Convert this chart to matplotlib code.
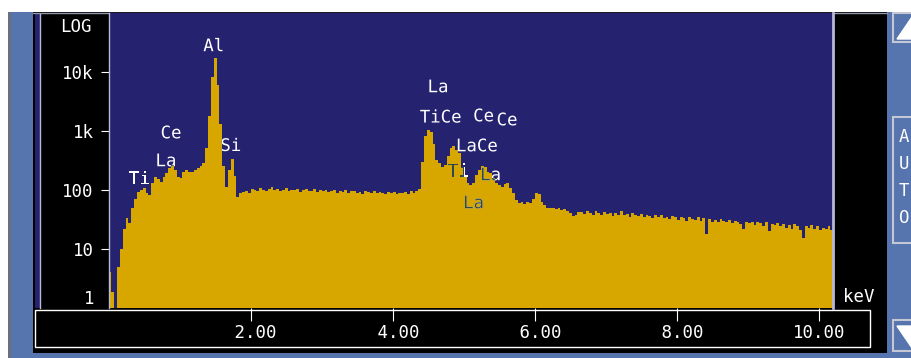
import numpy as np
import matplotlib.pyplot as plt
from matplotlib.patches import Rectangle, Polygon, PathPatch
from matplotlib.ticker import NullLocator
from matplotlib.textpath import TextPath
from matplotlib.font_manager import FontProperties
from matplotlib.transforms import Affine2D

W, H = 912, 358
NAVY = '#25236f'
GOLD = '#d7a700'
PANEL = '#5674ad'
EDGE = '#b8b8d8'
INK = '#2f4a4f'
MONO = 'DejaVu Sans Mono'
FS = 12.5

# spectrum counts, one value per 0.04 keV channel starting at 0 keV
kev_per_channel = 0.04
low_energy = [4, 1.9, 1.0, 5, 10, 22, 33, 27, 49, 70,
              91, 99, 107, 88, 81, 130, 165, 150, 135, 165,
              190, 234, 262, 215, 165, 158, 200, 215, 200, 200,
              215, 234, 250, 285, 500, 1800, 8000, 17000, 6000, 1300,
              250, 110, 220, 330, 170, 75, 88]
background = [92, 96, 90, 102, 98, 95, 108, 100, 97, 104,
              110, 99, 103, 96, 100, 107, 94, 101, 98, 105,
              93, 99, 102, 95, 97, 104, 92, 98, 94, 100,
              91, 96, 99, 90, 95, 93, 98, 88, 94, 97,
              90, 92, 86, 95, 91, 89, 94, 87, 92, 90,
              85, 93, 88, 91, 84, 90, 87, 92, 86, 95,
              89, 96, 105]
l_lines = [300, 800, 1030, 950, 600, 320, 285, 243, 260, 380,
           500, 550, 480, 420, 243, 165, 130, 120, 130, 180,
           215, 250, 240, 200, 190, 158, 130, 120, 110, 125,
           130, 107, 88, 67, 60, 62, 58, 63, 60, 70,
           88, 85, 62, 55, 50, 49, 50, 48, 49, 46,
           48, 44, 40, 36, 38, 42]
high_energy = [42, 39, 44, 40, 38, 43, 41, 37, 42, 39,
               40, 36, 41, 38, 43, 37, 39, 35, 40, 38,
               36, 39, 34, 38, 36, 33, 37, 35, 38, 33,
               35, 32, 36, 34, 31, 35, 33, 30, 34, 32,
               31, 34, 30, 33, 18, 32, 29, 31, 28, 32,
               30, 28, 31, 27, 30, 29, 26, 22, 29, 27,
               28, 25, 29, 27, 24, 28, 20, 26, 25, 27,
               24, 26, 23, 25, 22, 26, 24, 21, 15, 24,
               23, 25, 22, 24, 21, 23, 22, 24, 21]
counts = np.array(low_energy + background + l_lines + high_energy, dtype=float)
edges = np.arange(len(counts) + 1) * kev_per_channel

x_ticks = [2, 4, 6, 8, 10]
x_tick_labels = [' 2.00', ' 4.00', ' 6.00', ' 8.00', '10.00']
y_ticks = [10, 100, 1000, 10000]
y_tick_labels = ['10', '100', '1k', '10k']

# element markers (label, keV, counts where the label sits)
peak_names = ['Ti', 'La', 'Ce', 'Al', 'Si', 'La', 'TiCe', 'Ce', 'Ce', 'LaCe', 'Ti', 'La', 'La']
peak_kev = [0.43, 0.81, 0.88, 1.47, 1.72, 4.64, 4.67, 5.28, 5.61, 5.19, 4.92, 5.38, 5.14]
peak_height = [162, 319, 951, 28700, 584, 5700, 1770, 1845, 1578, 573, 216, 185, 62]

fig = plt.figure(figsize=(W / 100, H / 100), dpi=100, facecolor=PANEL)


def px_rect(x0, y0, x1, y1):
    return [x0 / W, 1 - y1 / H, (x1 - x0) / W, (y1 - y0) / H]


# screen frame, drawn in pixel units
bg = fig.add_axes([0, 0, 1, 1])
bg.set_xlim(0, W)
bg.set_ylim(H, 0)
bg.axis('off')


def box(x0, y0, x1, y1, **kw):
    bg.add_patch(Rectangle((x0, y0), x1 - x0, y1 - y0, **kw))


box(0, 0, W, 12, color='white', lw=0)
box(0, 12, 8, H, color='white', lw=0)
box(8, 12, 11, H, color='#6a7080', lw=0)
box(33, 12, 887, 353, color='black', lw=0)
box(35, 14, 40, 308, color=NAVY, lw=0)
bg.plot([33, 887], [12.5, 12.5], color='#9098a8', lw=1)
bg.plot([40, 40], [14, 308], color=EDGE, lw=1)
box(35.5, 309.5, 870, 347, fill=False, ec='white', lw=1)
bg.text(92, 27, 'LOG', color='white', ha='right', va='center', family=MONO, fontsize=FS)
bg.text(843, 297, 'keV', color='white', ha='left', va='center', family=MONO, fontsize=FS)

# scroll buttons on the right edge
for y0, y1 in [(13, 42), (117, 243), (320, 351)]:
    box(893, y0, 920, y1, fc=PANEL, ec='#c4c8d4', lw=1.5)
bg.add_patch(Polygon([(897, 39), (912, 17), (927, 39)], color='white'))
bg.add_patch(Polygon([(897, 326), (927, 326), (912, 348)], color='white'))
for i, ch in enumerate('AUTO'):
    bg.text(899, 137 + 27 * i, ch, color='white', ha='left', va='center', family=MONO, fontsize=FS)

# spectrum panel
ax = fig.add_axes(px_rect(108.6, 12.5, 833.2, 308))
ax.set_facecolor(NAVY)
step = ax.stairs(counts, edges, fill=True, color=GOLD, baseline=0.1)
ax.set_yscale('log')
ax.set_xlim(0, 10.2)
ax.set_ylim(1, 1e5)
ax.set_xticks(x_ticks, x_tick_labels)
ax.set_yticks(y_ticks, y_tick_labels)
ax.xaxis.set_minor_locator(NullLocator())
ax.yaxis.set_minor_locator(NullLocator())
ax.tick_params(axis='x', direction='out', length=9.4, width=0.8, color='white', pad=2,
               labelcolor='white', labelsize=FS)
ax.tick_params(axis='y', direction='out', length=5.8, width=0.8, color='white', pad=5,
               labelcolor='white', labelsize=FS)
for lab in ax.get_xticklabels() + ax.get_yticklabels():
    lab.set_family(MONO)
ax.annotate('1', xy=(0, 1), xycoords=('axes fraction', 'data'), xytext=(-13.8, 9),
            textcoords='offset pixels', ha='right', va='center', color='white',
            family=MONO, fontsize=FS)
for side in ['top', 'bottom']:
    ax.spines[side].set_visible(False)
ax.spines['left'].set_color(EDGE)
ax.spines['left'].set_linewidth(1)
ax.spines['right'].set_color(EDGE)
ax.spines['right'].set_linewidth(2)

# peak labels as glyph outlines: white over the background, dark where
# they cross the spectrum (the dark copy is clipped to the filled steps)
prop = FontProperties(family=MONO)
for name, e, c in zip(peak_names, peak_kev, peak_height):
    glyphs = TextPath((0, 0), name, size=FS * 100 / 72, prop=prop)
    bb = glyphs.get_extents()
    px, py = ax.transData.transform((e, c))
    tr = Affine2D().translate(px - (bb.x0 + bb.x1) / 2, py - (bb.y0 + bb.y1) / 2)
    ax.add_patch(PathPatch(glyphs, transform=tr, fc='white', lw=0))
    dark = ax.add_patch(PathPatch(glyphs, transform=tr, fc=INK, lw=0))
    dark.set_clip_path(step)

fig.savefig('out.png', dpi=100, facecolor=fig.get_facecolor())
